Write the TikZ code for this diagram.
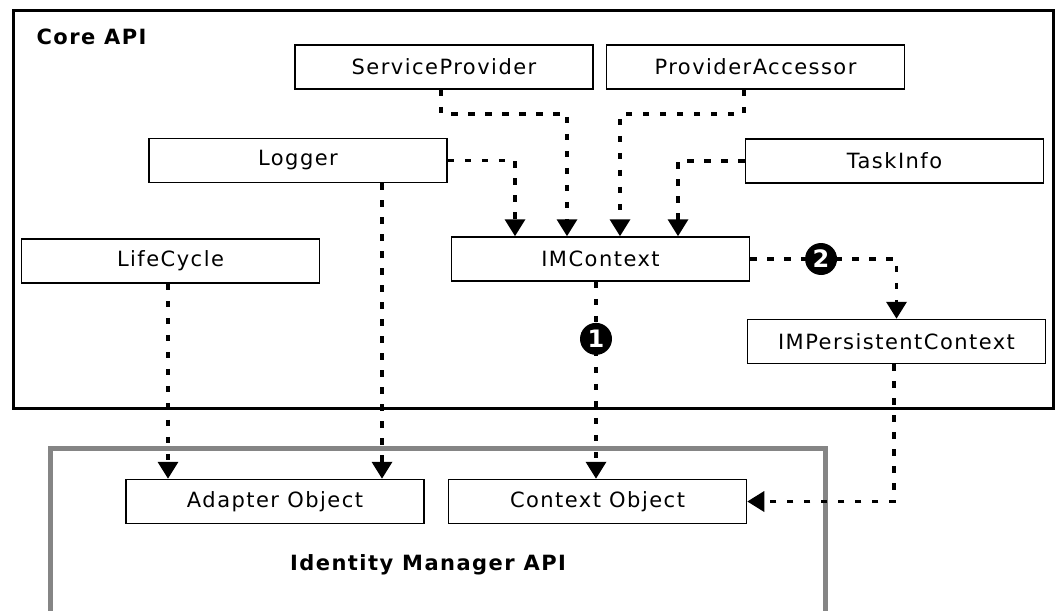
\documentclass[tikz,border=0pt]{standalone}
\usepackage{fontspec}
\setmainfont{DejaVu Sans}[LetterSpace=7]
\usetikzlibrary{arrows.meta}
\begin{document}
\begin{tikzpicture}[x=1pt, y=-1pt,
	box/.style={draw=black, line width=1.5pt, minimum width=298pt, minimum height=44pt, inner sep=0pt, font=\fontsize{21}{25}\selectfont},
	link/.style={line width=3.5pt, dash pattern=on 6.5pt off 10.5pt, -{Triangle[width=20pt, length=17pt]}},
	stepmark/.style={circle, fill=black, text=white, inner sep=0pt, minimum size=32pt, font=\bfseries\fontsize{24}{28}\selectfont},
	title/.style={font=\bfseries\fontsize{21}{25}\selectfont}]
	\useasboundingbox (0,0) rectangle (1056,610);
	
	\draw[line width=3pt] (13,11) rectangle (1053,408);
	\draw[line width=5pt, draw=black!48] (50,620) -- (50,448) -- (825,448) -- (825,620);
	
	\node[title, anchor=west] (core) at (33,37) {Core API};
	\node[title] (idm) at (428,565) {Identity Manager API};
	
	\node[box] (sp) at (444,67) {ServiceProvider};
	\node[box] (pa) at (755.5,67) {ProviderAccessor};
	\node[box] (log) at (298,160.5) {Logger};
	\node[box] (task) at (894.5,161) {TaskInfo};
	\node[box] (life) at (170.5,261) {LifeCycle};
	\node[box] (imc) at (600.5,259) {IMContext};
	\node[box] (impc) at (896.5,341.5) {IMPersistentContext};
	\node[box] (adapter) at (275,501.5) {Adapter Object};
	\node[box] (ctx) at (597.5,501.5) {Context Object};
	
	\draw[link] ([xshift=-3pt]sp.south) -- ++(0,24) -| ([xshift=-33.5pt]imc.north);
	\draw[link] ([xshift=-11.5pt]pa.south) -- ++(0,24) -| ([xshift=19.5pt]imc.north);
	\draw[link] (log.east) -| ([xshift=-85.5pt]imc.north);
	\draw[link] (task.west) -| ([xshift=77.5pt]imc.north);
	\draw[link] ([xshift=-4.5pt]imc.south) -- node[stepmark, pos=0.29] (one) {1} ([xshift=-1.5pt]ctx.north);
	\draw[link] (imc.east) -| node[stepmark, pos=0.242] (two) {2} (impc.north);
	\draw[link] ([xshift=-2.5pt]impc.south) |- (ctx.east);
	\draw[link] ([xshift=-2.5pt]life.south) -- ([xshift=-107pt]adapter.north);
	\draw[link] ([xshift=84pt]log.south) -- ([xshift=107pt]adapter.north);
\end{tikzpicture}
\end{document}
